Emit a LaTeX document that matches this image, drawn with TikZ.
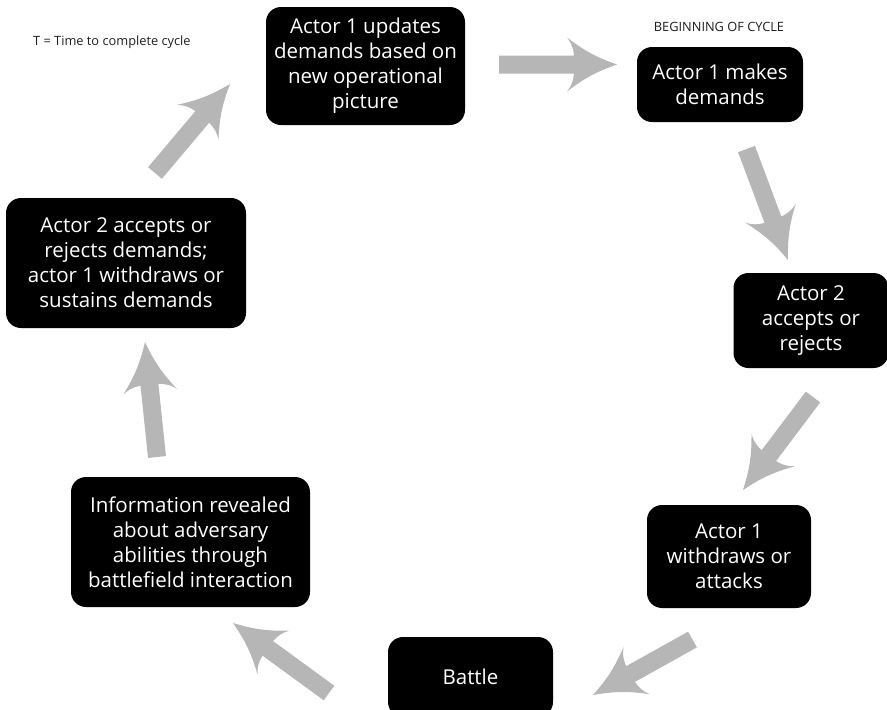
\documentclass[tikz,border=0pt]{standalone}
\usepackage{fontspec}
\setmainfont{Open Sans}
\usetikzlibrary{calc}
\definecolor{arrowgray}{RGB}{181,182,181}
\definecolor{notegray}{RGB}{30,30,30}
\tikzset{
  box/.style={fill=black, rounded corners=15pt, text=white, align=center,
    font=\fontsize{20.5}{25}\selectfont, inner sep=0pt},
  note/.style={font=\fontsize{12.8}{14}\selectfont, text=notegray, inner sep=0pt}
}
\newcommand\grarrow[2]{%
  \coordinate (gB) at ($(#2)!50pt!(#1)$);
  \coordinate (gJ) at ($(#2)!43pt!(#1)$);
  \fill[arrowgray] ($(#1)!9pt!90:(#2)$) -- ($(gJ)!9pt!90:(#2)$)
    to[bend right=16] ($(gB)!27pt!90:(#2)$)
    to[bend right=9] (#2)
    to[bend right=9] ($(gB)!27pt!-90:(#2)$)
    to[bend right=16] ($(gJ)!9pt!-90:(#2)$)
    -- ($(#1)!9pt!-90:(#2)$) -- cycle;}
\begin{document}
\begin{tikzpicture}[x=1pt,y=-1pt]
\useasboundingbox (0,0) rectangle (887,710);
\node[note, anchor=west] (tnote) at (33,42) {T = Time to complete cycle};
\node[note] (begin) at (719,27) {BEGINNING OF CYCLE};

\node[box, minimum width=199pt, minimum height=118pt] (upd) at (365.5,66)
  {Actor 1 updates\\demands based on\\new operational\\picture};
\node[box, minimum width=166pt, minimum height=75pt] (make) at (720,84.5)
  {Actor 1 makes\\demands};
\node[box, minimum width=155pt, minimum height=95pt] (acc) at (811,320.5)
  {Actor 2\\accepts or\\rejects};
\node[box, minimum width=164pt, minimum height=103pt] (wd) at (729,556.5)
  {Actor 1\\withdraws or\\attacks};
\node[box, minimum width=165pt, minimum height=80pt] (battle) at (470.5,677)
  {Battle};
\node[box, minimum width=239pt, minimum height=130pt] (info) at (190.5,542)
  {Information revealed\\about adversary\\abilities through\\battlefield interaction};
\node[box, minimum width=240pt, minimum height=130pt] (acc2) at (126,263)
  {Actor 2 accepts or\\rejects demands;\\actor 1 withdraws or\\sustains demands};

\coordinate (a1s) at (499,64.5);  \coordinate (a1t) at (617,64.5);
\coordinate (a2s) at (746.5,149); \coordinate (a2t) at (788,260);
\coordinate (a3s) at (813,397);   \coordinate (a3t) at (743,490);
\coordinate (a4s) at (692.5,639.5); \coordinate (a4t) at (593,695);
\coordinate (a5s) at (329,693);   \coordinate (a5t) at (233,623);
\coordinate (a6s) at (157,457);   \coordinate (a6t) at (145,342);
\coordinate (a7s) at (155,173);   \coordinate (a7t) at (230,84);

\grarrow{a1s}{a1t}
\grarrow{a2s}{a2t}
\grarrow{a3s}{a3t}
\grarrow{a4s}{a4t}
\grarrow{a5s}{a5t}
\grarrow{a6s}{a6t}
\grarrow{a7s}{a7t}
\end{tikzpicture}
\end{document}
